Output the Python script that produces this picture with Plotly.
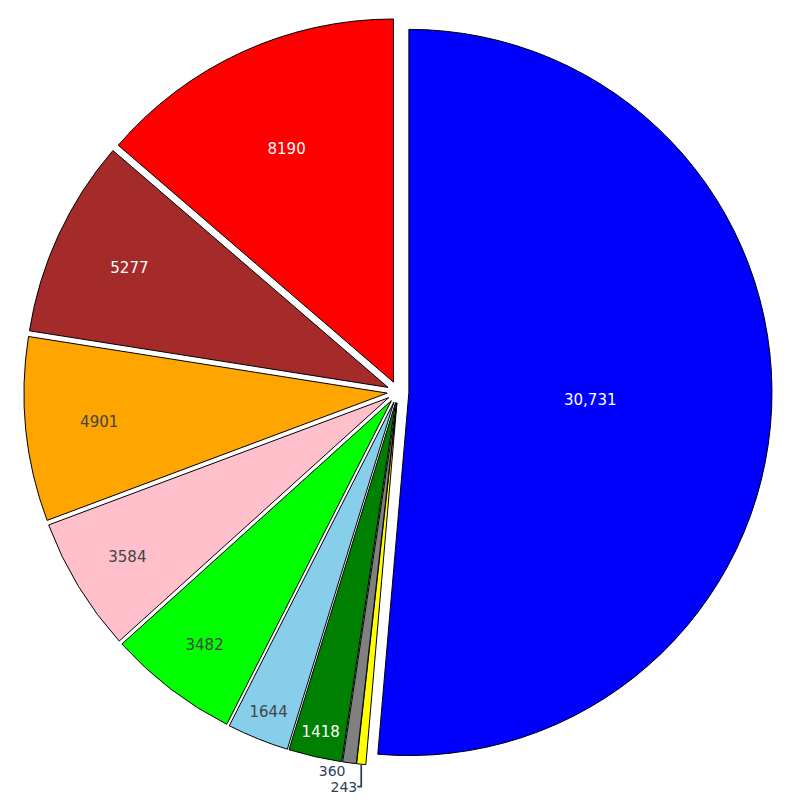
import plotly.graph_objects as go

values = [30731, 243, 360, 1418, 1644, 3482, 3584, 4901, 5277, 8190]
colors = ["blue", "yellow", "gray", "green", "skyblue", "lime", "pink", "orange", "brown", "red"]
labels = ["A", "B", "C", "D", "E", "F", "G", "H", "I", "J"]

FONT = "Verdana, DejaVu Sans, sans-serif"

fig = go.Figure(go.Pie(
    labels=labels,
    values=values,
    sort=False,
    direction="clockwise",
    rotation=0,
    pull=0.03,
    automargin=False,
    marker=dict(colors=colors, line=dict(color="black", width=1)),
    textinfo="value",
    insidetextorientation="horizontal",
    insidetextfont=dict(size=15, family=FONT),
    outsidetextfont=dict(size=14, family=FONT, color="#2a3f5f"),
    showlegend=False,
))
fig.update_layout(
    width=798, height=802,
    paper_bgcolor="white", plot_bgcolor="white",
    margin=dict(l=16, r=34, t=10, b=44, autoexpand=False),
    font=dict(color="#2a3f5f", family=FONT),
)
fig.write_html("out.html")
